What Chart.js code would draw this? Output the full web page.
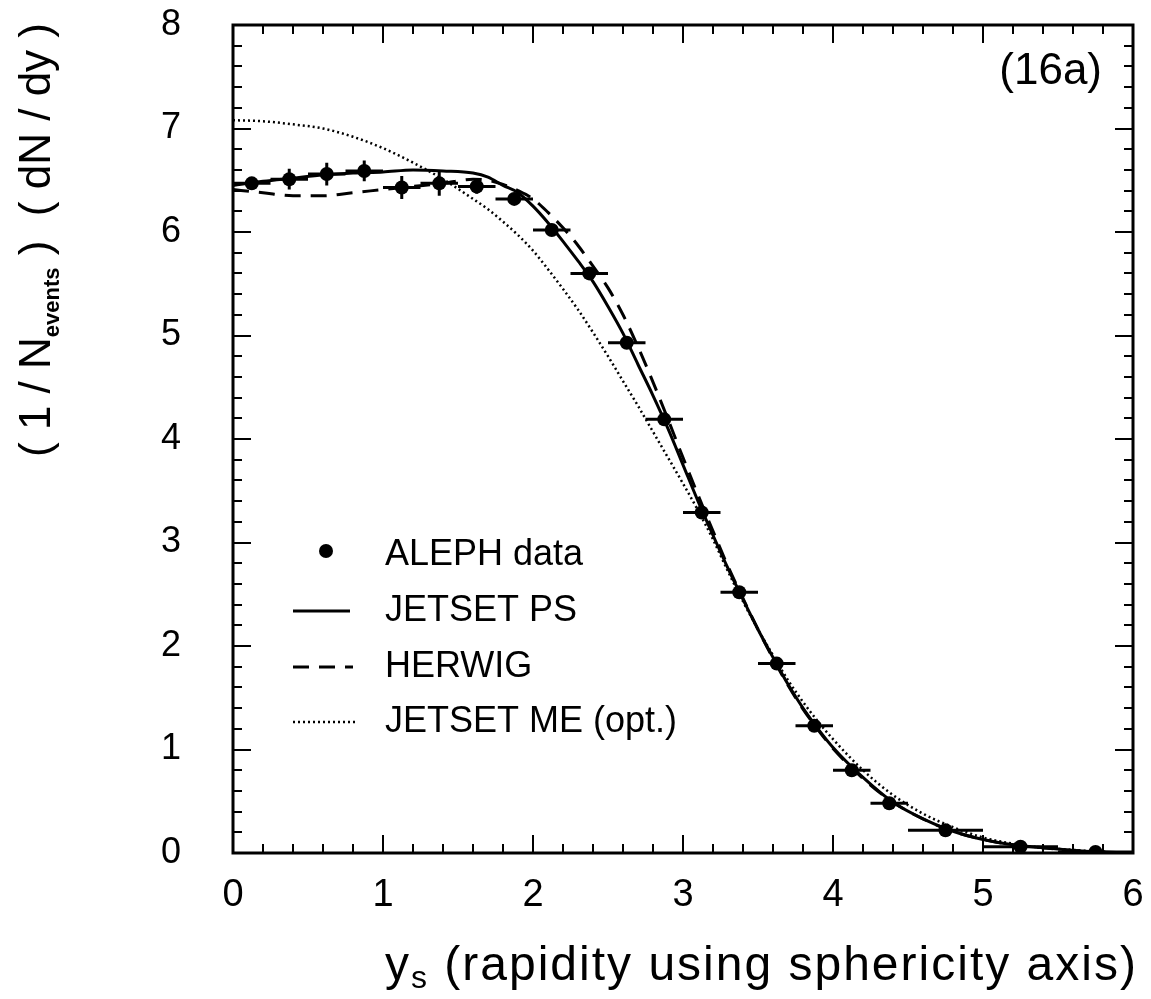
<!DOCTYPE html>
<html>
<head>
<meta charset="utf-8">
<script src="https://cdn.jsdelivr.net/npm/chart.js@4/dist/chart.umd.min.js"></script>
<style>
  html, body { margin: 0; padding: 0; background: #fff; }
</style>
</head>
<body>
<canvas id="chart" width="1151" height="999"></canvas>
<script>
// --- donnees ---
const dataX   = [0.125,0.375,0.625,0.875,1.125,1.375,1.625,1.875,2.125,2.375,2.625,2.875,3.125,3.375,3.625,3.875,4.125,4.375,4.75,5.25,5.75];
const dataY   = [6.47,6.51,6.56,6.59,6.43,6.47,6.44,6.32,6.02,5.60,4.93,4.19,3.29,2.52,1.83,1.23,0.80,0.48,0.22,0.06,0.01];
const dataErr = [0.05,0.10,0.11,0.10,0.11,0.12,0.07,0.06,0.05,0.05,0.05,0.05,0.05,0.05,0.04,0.04,0.03,0.03,0.02,0.02,0.01];
const binHalf = [0.125,0.125,0.125,0.125,0.125,0.125,0.125,0.125,0.125,0.125,0.125,0.125,0.125,0.125,0.125,0.125,0.125,0.125,0.25,0.25,0.25];

const xGrid = [0,0.2,0.4,0.6,0.8,1.0,1.2,1.4,1.6,1.7,1.8,1.9,2.0,2.1,2.2,2.3,2.4,2.5,2.6,2.7,2.8,2.9,3.0,3.1,3.2,3.3,3.4,3.5,3.6,3.7,3.8,3.9,4.0,4.2,4.4,4.6,4.8,5.0,5.2,5.4,5.6,5.8,6.0];
const jetsetPS = [6.45,6.49,6.52,6.55,6.57,6.58,6.60,6.59,6.57,6.53,6.45,6.38,6.25,6.09,5.91,5.72,5.52,5.28,5.02,4.72,4.42,4.10,3.75,3.40,3.07,2.75,2.45,2.16,1.89,1.63,1.40,1.20,1.02,0.73,0.49,0.33,0.21,0.13,0.08,0.05,0.025,0.01,0.0];
const herwig   = [6.41,6.38,6.35,6.35,6.38,6.41,6.44,6.47,6.51,6.50,6.46,6.40,6.32,6.19,6.04,5.87,5.67,5.46,5.20,4.89,4.55,4.19,3.82,3.46,3.11,2.77,2.46,2.16,1.88,1.62,1.39,1.19,1.01,0.72,0.49,0.33,0.21,0.13,0.08,0.05,0.025,0.01,0.0];
const jetsetME = [7.08,7.07,7.04,7.00,6.92,6.81,6.67,6.51,6.32,6.22,6.10,5.97,5.82,5.64,5.45,5.25,5.03,4.80,4.56,4.32,4.07,3.82,3.57,3.31,3.03,2.72,2.43,2.16,1.91,1.67,1.46,1.27,1.10,0.80,0.56,0.38,0.25,0.15,0.09,0.05,0.03,0.01,0.0];

const legendLabels = ['ALEPH data', 'JETSET PS', 'HERWIG', 'JETSET ME (opt.)'];
const xTicks = [0,1,2,3,4,5,6];
const yTicks = [0,1,2,3,4,5,6,7,8];

const FONT = '"Liberation Sans", Arial, sans-serif';

const curve = arr => xGrid.map((x, i) => ({ x: x, y: arr[i] }));

// pas de marge automatique autour des axes : la zone de trace reste fixe
const noPad = s => { s.paddingTop = 0; s.paddingBottom = 0; s.paddingLeft = 0; s.paddingRight = 0; };

// --- decor : cadre, petites graduations, barres d'erreur, legende, titres ---
const decor = {
  id: 'decor',
  beforeDatasetsDraw(chart) {
    const { ctx, scales: { x, y } } = chart;
    ctx.save();
    ctx.strokeStyle = '#000';
    ctx.lineWidth = 3;
    ctx.beginPath();
    dataX.forEach((v, i) => {
      const px = x.getPixelForValue(v), py = y.getPixelForValue(dataY[i]);
      ctx.moveTo(x.getPixelForValue(v - binHalf[i]), py);
      ctx.lineTo(x.getPixelForValue(v + binHalf[i]), py);
      ctx.moveTo(px, y.getPixelForValue(dataY[i] - dataErr[i]));
      ctx.lineTo(px, y.getPixelForValue(dataY[i] + dataErr[i]));
    });
    ctx.stroke();
    ctx.restore();
  },
  afterDraw(chart) {
    const { ctx, chartArea: a, scales: { x, y } } = chart;
    ctx.save();
    ctx.strokeStyle = '#000';
    ctx.fillStyle = '#000';

    // cadre
    ctx.lineWidth = 3;
    ctx.strokeRect(a.left, a.top, a.right - a.left, a.bottom - a.top);

    // graduations vers l'interieur
    ctx.lineWidth = 2;
    ctx.beginPath();
    for (let k = 0; k <= 30; k++) {
      const v = k * 0.2, big = k % 5 === 0 ? 18 : 9;
      const px = Math.round(x.getPixelForValue(v));
      ctx.moveTo(px, a.bottom); ctx.lineTo(px, a.bottom - big);
      ctx.moveTo(px, a.top); ctx.lineTo(px, a.top + big);
    }
    for (let k = 0; k <= 40; k++) {
      const v = k * 0.2, big = k % 5 === 0 ? 18 : 9;
      const py = Math.round(y.getPixelForValue(v));
      ctx.moveTo(a.left, py); ctx.lineTo(a.left + big, py);
      ctx.moveTo(a.right, py); ctx.lineTo(a.right - big, py);
    }
    ctx.stroke();

    // legende
    const rows = [555, 611, 667, 722];
    const lx0 = 293, lx1 = 350, tx = 385;
    ctx.beginPath();
    ctx.arc(326, rows[0] - 4, 7, 0, Math.PI * 2);
    ctx.fill();
    const styles = [[], [16, 10], [2, 3]];
    const widths = [3, 3, 2.5];
    for (let r = 1; r < 4; r++) {
      ctx.lineWidth = widths[r - 1];
      ctx.setLineDash(styles[r - 1]);
      ctx.beginPath();
      ctx.moveTo(lx0, rows[r]); ctx.lineTo(lx1 + (r - 1) * 3, rows[r]);
      ctx.stroke();
    }
    ctx.setLineDash([]);
    ctx.font = '36px ' + FONT;
    ctx.textBaseline = 'middle';
    ctx.textAlign = 'left';
    legendLabels.forEach((t, r) => ctx.fillText(t, tx, rows[r]));

    // etiquette (16a)
    ctx.font = '44px ' + FONT;
    ctx.textAlign = 'right';
    ctx.fillText('(16a)', 1102, 72);

    // titre axe x : y_s (rapidity using sphericity axis)
    ctx.textAlign = 'left';
    ctx.textBaseline = 'alphabetic';
    ctx.letterSpacing = '2px';
    let cx = 385;
    const base = 980;
    ctx.font = '48px ' + FONT;
    ctx.fillText('y', cx, base); cx += ctx.measureText('y').width;
    ctx.font = '32px ' + FONT;
    ctx.fillText('s', cx, base + 8); cx += ctx.measureText('s').width;
    ctx.font = '48px ' + FONT;
    ctx.fillText(' (rapidity using sphericity axis)', cx, base);
    ctx.letterSpacing = '0px';

    // titre axe y (tourne)
    ctx.translate(50, 240);
    ctx.rotate(-Math.PI / 2);
    const p1 = '( 1 / N', p2 = 'events', p3 = ' )  ( dN / dy )';
    ctx.font = '44px ' + FONT;
    const w1 = ctx.measureText(p1).width, w3 = ctx.measureText(p3).width;
    ctx.font = 'bold 22px ' + FONT;
    const w2 = ctx.measureText(p2).width;
    let sx = -(w1 + w2 + w3) / 2;
    ctx.font = '44px ' + FONT;
    ctx.fillText(p1, sx, 0); sx += w1;
    ctx.font = 'bold 22px ' + FONT;
    ctx.fillText(p2, sx, 9); sx += w2;
    ctx.font = '44px ' + FONT;
    ctx.fillText(p3, sx, 0);

    ctx.restore();
  }
};

new Chart(document.getElementById('chart'), {
  type: 'scatter',
  data: {
    datasets: [
      {
        label: legendLabels[0],
        data: dataX.map((x, i) => ({ x: x, y: dataY[i] })),
        pointRadius: 7,
        pointBackgroundColor: '#000',
        pointBorderWidth: 0,
        showLine: false
      },
      {
        label: legendLabels[1],
        data: curve(jetsetPS),
        showLine: true,
        borderColor: '#000',
        borderWidth: 3,
        pointRadius: 0,
        cubicInterpolationMode: 'monotone'
      },
      {
        label: legendLabels[2],
        data: curve(herwig),
        showLine: true,
        borderColor: '#000',
        borderWidth: 3,
        borderDash: [16, 10],
        pointRadius: 0,
        cubicInterpolationMode: 'monotone'
      },
      {
        label: legendLabels[3],
        data: curve(jetsetME),
        showLine: true,
        borderColor: '#000',
        borderWidth: 2.5,
        borderDash: [2, 3],
        pointRadius: 0,
        cubicInterpolationMode: 'monotone'
      }
    ]
  },
  options: {
    responsive: false,
    animation: false,
    layout: { padding: { left: 0, top: 25, right: 18, bottom: 0 } },
    plugins: {
      legend: { display: false },
      tooltip: { enabled: false }
    },
    scales: {
      x: {
        type: 'linear',
        min: 0, max: 6,
        afterBuildTicks: s => { s.ticks = xTicks.map(v => ({ value: v })); },
        afterFit: s => { s.height = 146; noPad(s); },
        grid: { display: false, drawTicks: false },
        border: { display: false },
        ticks: { color: '#000', font: { family: FONT, size: 38 }, padding: 20, maxRotation: 0 }
      },
      y: {
        type: 'linear',
        min: 0, max: 8,
        afterBuildTicks: s => { s.ticks = yTicks.map(v => ({ value: v })); },
        afterFit: s => { s.width = 233; noPad(s); },
        grid: { display: false, drawTicks: false },
        border: { display: false },
        ticks: { color: '#000', font: { family: FONT, size: 36 }, padding: 52 }
      }
    }
  },
  plugins: [decor]
});
</script>
</body>
</html>
